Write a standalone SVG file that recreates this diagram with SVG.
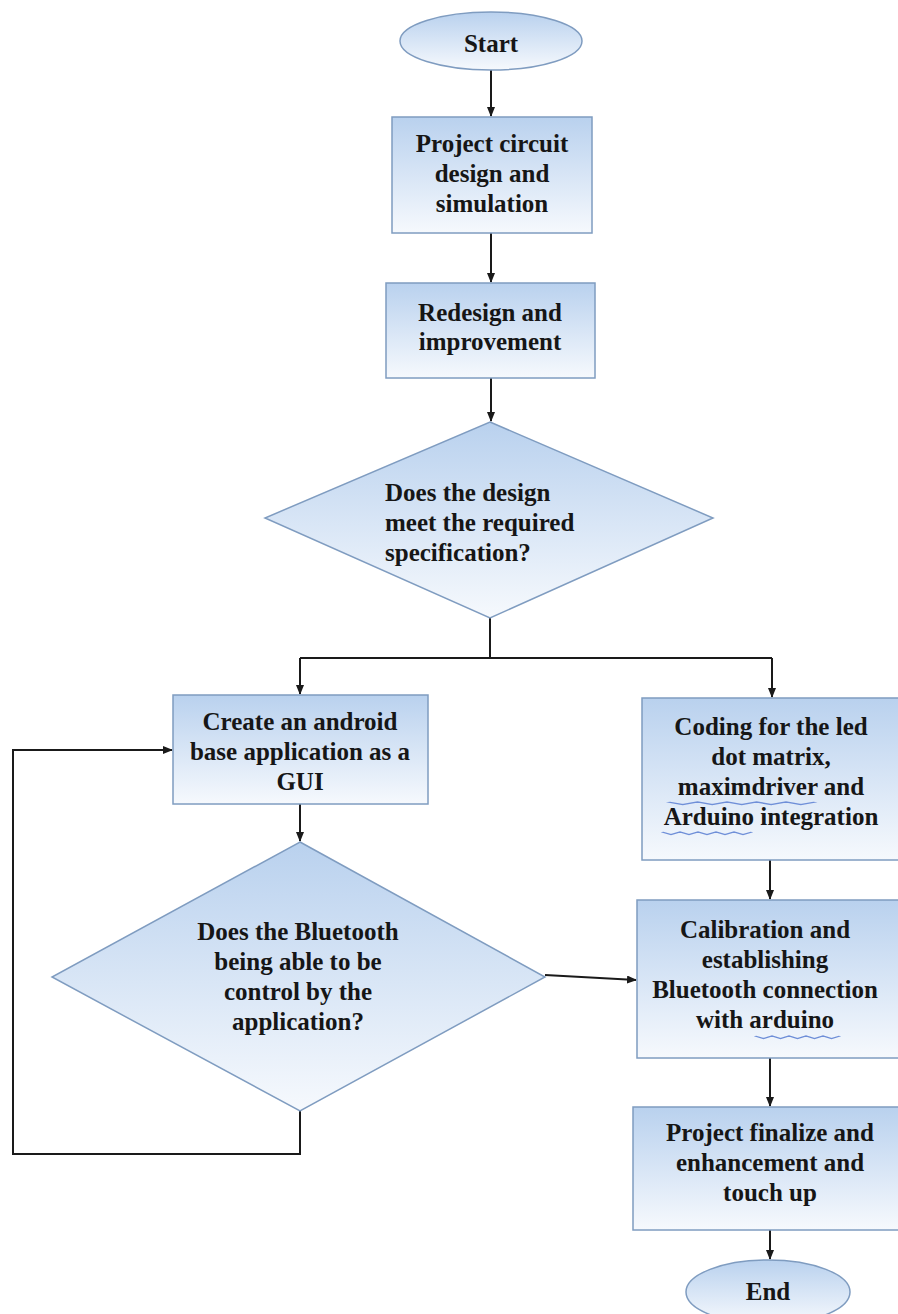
<svg xmlns="http://www.w3.org/2000/svg" width="898" height="1314" viewBox="0 0 898 1314">
<defs>
<linearGradient id="g" x1="0" y1="0" x2="0" y2="1">
<stop offset="0" stop-color="#b9d1ee"/>
<stop offset="1" stop-color="#f6f9fd"/>
</linearGradient>
<marker id="arr" markerUnits="userSpaceOnUse" markerWidth="10" markerHeight="8" refX="9" refY="4" orient="auto">
<path d="M0,0 L10,4 L0,8 Z" fill="#1a1a1a"/>
</marker>
<path id="wave" d="M0,0 l2.5,2.5 l2.5,-2.5 l2.5,2.5 l2.5,-2.5 l2.5,2.5 l2.5,-2.5 l2.5,2.5 l2.5,-2.5 l2.5,2.5 l2.5,-2.5"/>
</defs>
<style>
.shape{fill:url(#g);stroke:#7f9cc0;stroke-width:1.5}
.t{font-family:"Liberation Serif","Times New Roman",serif;font-weight:bold;font-size:25px;fill:#161616;text-anchor:middle}
.l{text-anchor:start}
.c{fill:none;stroke:#1a1a1a;stroke-width:2}
.sq{fill:none;stroke:#6f8fd8;stroke-width:1}
</style>
<rect width="898" height="1314" fill="#ffffff"/>
<g id="connectors">
<line class="c" x1="491" y1="70" x2="491" y2="116" marker-end="url(#arr)"/>
<line class="c" x1="491" y1="233" x2="491" y2="282" marker-end="url(#arr)"/>
<line class="c" x1="491" y1="378" x2="491" y2="421" marker-end="url(#arr)"/>
<polyline class="c" points="490,618 490,658"/>
<polyline class="c" points="300,658 772,658"/>
<polyline class="c" points="300,658 300,694" marker-end="url(#arr)"/>
<polyline class="c" points="772,658 772,697" marker-end="url(#arr)"/>
<line class="c" x1="300" y1="804" x2="300" y2="841" marker-end="url(#arr)"/>
<line class="c" x1="545" y1="975" x2="636" y2="980" marker-end="url(#arr)"/>
<polyline class="c" points="300,1111 300,1154 13,1154 13,750 172,750" marker-end="url(#arr)"/>
<line class="c" x1="770" y1="860" x2="770" y2="899" marker-end="url(#arr)"/>
<line class="c" x1="770" y1="1058" x2="770" y2="1106" marker-end="url(#arr)"/>
<line class="c" x1="770" y1="1230" x2="770" y2="1259" marker-end="url(#arr)"/>
</g>
<g id="start">
<ellipse class="shape" cx="491" cy="41" rx="91" ry="29"/>
<text class="t" x="491" y="52">Start</text>
</g>
<g id="design">
<rect class="shape" x="392" y="117" width="200" height="116"/>
<text class="t" x="492" y="152">Project circuit</text>
<text class="t" x="492" y="182">design and</text>
<text class="t" x="492" y="212">simulation</text>
</g>
<g id="redesign">
<rect class="shape" x="386" y="283" width="209" height="95"/>
<text class="t" x="490" y="321">Redesign and</text>
<text class="t" x="490" y="350">improvement</text>
</g>
<g id="decision1">
<polygon class="shape" points="490,422 713,518 490,618 265,518"/>
<text class="t l" x="385" y="501">Does the design</text>
<text class="t l" x="385" y="531">meet the required</text>
<text class="t l" x="385" y="561">specification?</text>
</g>
<g id="android">
<rect class="shape" x="173" y="695" width="255" height="109"/>
<text class="t" x="300" y="730">Create an android</text>
<text class="t" x="300" y="760">base application as a</text>
<text class="t" x="300" y="790">GUI</text>
</g>
<g id="decision2">
<polygon class="shape" points="300,842 545,977 300,1111 52,977"/>
<text class="t" x="298" y="940">Does the Bluetooth</text>
<text class="t" x="298" y="970">being able to be</text>
<text class="t" x="298" y="1000">control by the</text>
<text class="t" x="298" y="1030">application?</text>
</g>
<g id="coding">
<rect class="shape" x="642" y="698" width="262" height="162"/>
<text class="t" x="771" y="735">Coding for the led</text>
<text class="t" x="771" y="765">dot matrix,</text>
<text class="t" x="771" y="795">maximdriver and</text>
<text class="t" x="771" y="825">Arduino integration</text>
<use class="sq" href="#wave" transform="translate(668,802) scale(5.9,1)"/>
<use class="sq" href="#wave" transform="translate(662,832) scale(3.6,1)"/>
</g>
<g id="calibration">
<rect class="shape" x="637" y="900" width="267" height="158"/>
<text class="t" x="765" y="938">Calibration and</text>
<text class="t" x="765" y="968">establishing</text>
<text class="t" x="765" y="998">Bluetooth connection</text>
<text class="t" x="765" y="1028">with arduino</text>
<use class="sq" href="#wave" transform="translate(755,1036) scale(3.4,1)"/>
</g>
<g id="finalize">
<rect class="shape" x="633" y="1107" width="271" height="123"/>
<text class="t" x="770" y="1141">Project finalize and</text>
<text class="t" x="770" y="1171">enhancement and</text>
<text class="t" x="770" y="1201">touch up</text>
</g>
<g id="end">
<ellipse class="shape" cx="768" cy="1292" rx="82" ry="32"/>
<text class="t" x="768" y="1300">End</text>
</g>
</svg>
